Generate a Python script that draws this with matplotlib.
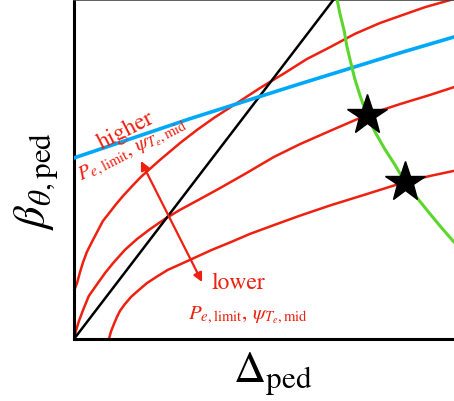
import matplotlib
matplotlib.use("Agg")
import matplotlib.pyplot as plt

plt.rcParams["mathtext.fontset"] = "stix"
plt.rcParams["font.family"] = "STIXGeneral"

# pedestal width (arb. units) vs poloidal beta
# red: constant P_e,limit / psi_Te,mid curves, high -> low
delta_hi = [0, 0.008, 0.016, 0.024, 0.034, 0.047, 0.061, 0.076, 0.095, 0.111, 0.129,
            0.153, 0.176, 0.226, 0.279, 0.324, 0.368, 0.437, 0.489, 0.555, 0.613,
            0.674, 0.739, 0.805, 0.858, 0.924, 1.0]
beta_hi = [0.142, 0.165, 0.198, 0.227, 0.257, 0.286, 0.316, 0.348, 0.375, 0.398, 0.422,
           0.451, 0.478, 0.528, 0.578, 0.617, 0.652, 0.702, 0.740, 0.785, 0.826,
           0.861, 0.900, 0.932, 0.953, 0.979, 1.003]
delta_mid = [0, 0.005, 0.013, 0.024, 0.039, 0.061, 0.082, 0.103, 0.134, 0.166, 0.200,
             0.239, 0.279, 0.332, 0.384, 0.450, 0.526, 0.595, 0.674, 0.771, 0.858,
             0.937, 1.0]
beta_mid = [0, 0.024, 0.053, 0.086, 0.127, 0.162, 0.195, 0.224, 0.263, 0.295, 0.324,
            0.354, 0.381, 0.413, 0.445, 0.487, 0.537, 0.575, 0.614, 0.661, 0.693,
            0.720, 0.743]
delta_lo = [0.092, 0.097, 0.105, 0.113, 0.121, 0.134, 0.150, 0.166, 0.192, 0.218, 0.247,
            0.279, 0.318, 0.363, 0.411, 0.463, 0.526, 0.595, 0.674, 0.766, 0.871,
            0.937, 1.0]
beta_lo = [0, 0.021, 0.044, 0.065, 0.083, 0.103, 0.124, 0.140, 0.165, 0.184, 0.204,
           0.220, 0.240, 0.263, 0.285, 0.310, 0.336, 0.364, 0.394, 0.426, 0.463,
           0.481, 0.496]

# KBM-like width scaling (straight line)
delta_kbm = [0, 0.70]
beta_kbm = [0, 1.026]

# blue constraint
delta_blue = [0, 0.303, 0.584, 0.858, 1.0]
beta_blue = [0.534, 0.649, 0.749, 0.844, 0.891]

# green stability boundary
delta_green = [0.692, 0.700, 0.711, 0.718, 0.726, 0.739, 0.753, 0.771, 0.792, 0.818,
               0.845, 0.871, 0.903, 0.937, 0.968, 1.0]
beta_green = [1.003, 0.959, 0.909, 0.864, 0.826, 0.767, 0.717, 0.661, 0.611, 0.560,
              0.513, 0.463, 0.416, 0.369, 0.327, 0.286]

# operating points where red meets green
delta_star = [0.771, 0.871]
beta_star = [0.661, 0.463]

red = "#ee2010"

fig = plt.figure(figsize=(4.54, 4.02), dpi=100)
ax = fig.add_axes([74/454, 62/402, 380/454, 339/402])
ax.set_xlim(0, 1)
ax.set_ylim(0, 1)

for d, b in [(delta_hi, beta_hi), (delta_mid, beta_mid), (delta_lo, beta_lo)]:
    ax.plot(d, b, color=red, lw=1.8, zorder=2, solid_joinstyle="round")
ax.plot(delta_kbm, beta_kbm, color="black", lw=1.8, zorder=3)
ax.plot(delta_blue, beta_blue, color="#00a8f8", lw=2.6, zorder=3, solid_joinstyle="round")
ax.plot(delta_green, beta_green, color="#5cd62c", lw=2.2, zorder=3, solid_joinstyle="round")
ax.plot(delta_star, beta_star, ls="none", marker="*", ms=30, color="black", zorder=5)

ax.annotate("", xy=(0.176, 0.525), xytext=(0.337, 0.168),
            arrowprops=dict(arrowstyle="<|-|>", color=red, lw=1.6, mutation_scale=13,
                            shrinkA=0, shrinkB=0))

lab = r"$P_{e,\mathrm{limit}},\,\psi_{T_e,\mathrm{mid}}$"
ax.text(0.137, 0.618, "higher", color=red, fontsize=17, rotation=27,
        ha="center", va="center", rotation_mode="anchor")
ax.text(0.155, 0.560, lab, color=red, fontsize=15, rotation=27,
        ha="center", va="center", rotation_mode="anchor")
ax.text(0.432, 0.168, "lower", color=red, fontsize=17, ha="center", va="center")
ax.text(0.458, 0.071, lab, color=red, fontsize=15, ha="center", va="center")

ax.set_xticks([])
ax.set_yticks([])
ax.set_xlabel(r"$\Delta_{\mathrm{ped}}$", fontsize=32)
ax.set_ylabel(r"$\beta_{\theta,\mathrm{ped}}$", fontsize=32)
ax.xaxis.set_label_coords(0.524, -0.03)
ax.yaxis.set_label_coords(-0.035, 0.47)

ax.spines["right"].set_visible(False)
ax.spines["top"].set_linewidth(1.2)
ax.spines["top"].set_color("#444444")
for s in ["left", "bottom"]:
    ax.spines[s].set_linewidth(2.2)

fig.savefig("out.png", dpi=100)
